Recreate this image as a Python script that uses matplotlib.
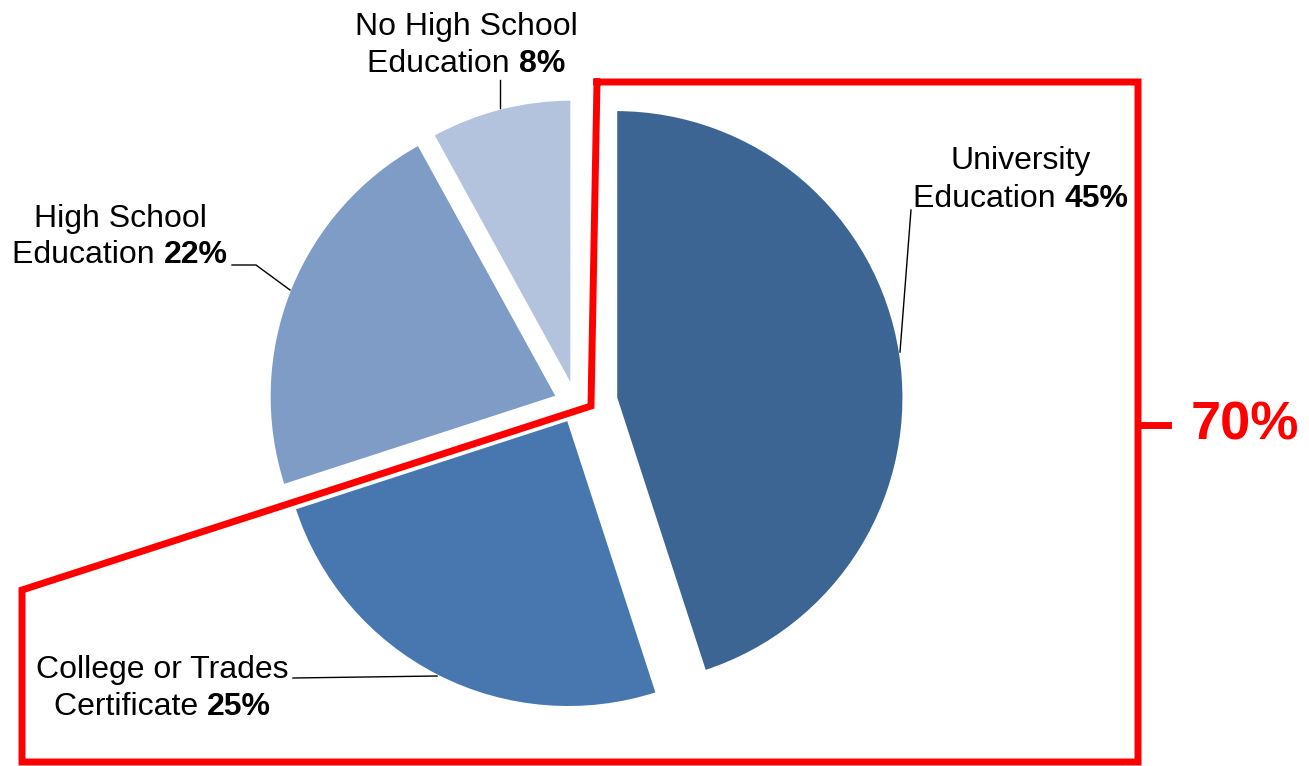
import matplotlib
matplotlib.use("Agg")
import matplotlib.pyplot as plt

plt.rcParams['font.family'] = ['Liberation Sans', 'DejaVu Sans']

# data
names = ["University\nEducation", "College or Trades\nCertificate",
         "High School\nEducation", "No High School\nEducation"]
shares = [45, 25, 22, 8]
colors = ["#3D6594", "#4877B0", "#7F9CC6", "#B3C3DE"]
explode = [0.14, 0.06, 0.07, 0.06]   # fraction of the radius
group_total = "70%"

# layout (pixel coordinates, y pointing down)
W, H = 1309, 766
center = (576, 404)
radius = 288
label_pos = [(1021, 169, 207), (162, 678, 715), (120, 227, 263), (466, 35, 72)]
leaders = [
    [(911, 210), (900, 352)],
    [(293, 678), (437, 676)],
    [(232, 265), (256, 265), (290, 290)],
    [(500, 80), (500, 108)],
]
bracket = [(597, 82), (1138, 82), (1138, 762), (22, 762), (22, 590),
           (591, 406), (597, 82)]

fig = plt.figure(figsize=(W / 100, H / 100), dpi=100)
ax = fig.add_axes([0, 0, 1, 1])

# y axis is inverted below, so counterclock in data = clockwise on screen
ax.pie(shares, colors=colors, explode=[e * radius for e in explode],
       center=center, radius=radius, startangle=-90, counterclock=True,
       wedgeprops=dict(edgecolor="white", linewidth=2))
ax.set_xlim(0, W)
ax.set_ylim(H, 0)
ax.set_aspect("equal")
ax.axis("off")

# red bracket around the two biggest groups
bx, by = zip(*bracket)
ax.plot(bx, by, color="#FF0000", lw=5, solid_joinstyle="miter", clip_on=False)
ax.plot([1138, 1168], [425, 425], color="#FF0000", lw=5)
ax.text(1245, 425, group_total, color="#FF0000", fontsize=39, fontweight="bold",
        ha="center", va="center")

# leader lines
for pts in leaders:
    lx, ly = zip(*pts)
    ax.plot(lx, ly, color="black", lw=1)

# labels: first line plain, second line plain + bold percentage
fs = 23
fig.canvas.draw()
renderer = fig.canvas.get_renderer()
for name, val, (cx, y1, y2) in zip(names, shares, label_pos):
    line1, line2 = name.split("\n")
    ax.text(cx, y1, line1, fontsize=fs, ha="center", va="baseline")
    t_norm = ax.text(0, y2, line2 + " ", fontsize=fs, ha="left", va="baseline")
    t_bold = ax.text(0, y2, f"{val}%", fontsize=fs, fontweight="bold",
                     ha="left", va="baseline")
    w1 = t_norm.get_window_extent(renderer).width
    w2 = t_bold.get_window_extent(renderer).width
    x0 = cx - (w1 + w2) / 2
    t_norm.set_x(x0)
    t_bold.set_x(x0 + w1)

fig.savefig("out.png", dpi=100)
